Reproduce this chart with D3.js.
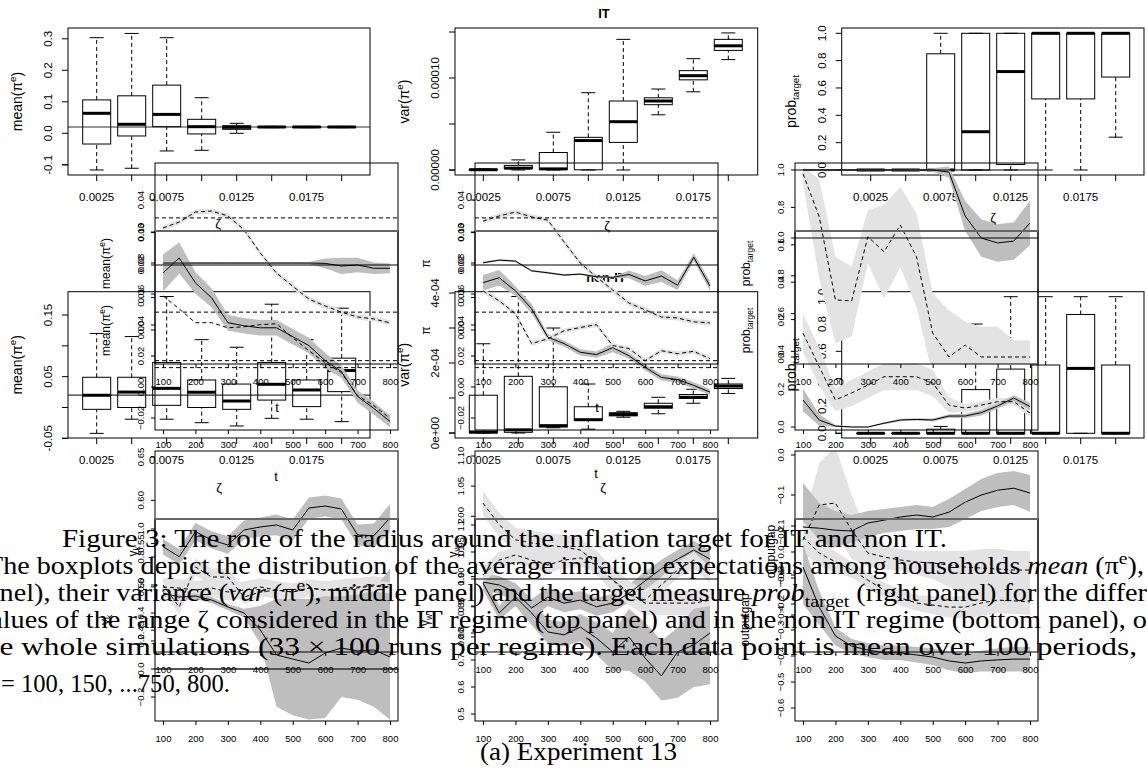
<!DOCTYPE html>
<html>
<head>
<meta charset="utf-8">
<script src="https://d3js.org/d3.v7.min.js"></script>
<style>
  body { margin: 0; background: #fff; }
  svg { display: block; }
</style>
</head>
<body>
<script>
// ---------- boxplot data: [lower whisker, q1, median, q3, upper whisker] ----------
var boxCats = ["0.0025", "0.005", "0.0075", "0.01", "0.0125", "0.015", "0.0175", "0.02"];

var itMeanBox = [
  [-0.1165, -0.034, 0.0635, 0.106, 0.3035],
  [-0.111, -0.0085, 0.0286, 0.119, 0.317],
  [-0.056, 0.021, 0.06, 0.153, 0.3035],
  [-0.054, -0.002, 0.021, 0.0444, 0.113],
  [0.0, 0.0127, 0.019, 0.0241, 0.0317],
  [0.018, 0.019, 0.02, 0.021, 0.022],
  [0.018, 0.019, 0.02, 0.021, 0.022],
  [0.018, 0.019, 0.02, 0.021, 0.022]
];
var itVarBox = [
  [0, 1e-7, 3e-7, 8e-7, 1.2e-6],
  [0, 1.5e-6, 2e-6, 5e-6, 1.1e-5],
  [0, 5e-7, 1.2e-6, 1.9e-5, 4.1e-5],
  [0, 2e-7, 3.2e-5, 3.55e-5, 8.4e-5],
  [0, 3.0e-5, 5.25e-5, 7.5e-5, 1.42e-4],
  [6.0e-5, 7.1e-5, 7.5e-5, 7.85e-5, 8.8e-5],
  [8.5e-5, 9.8e-5, 1.025e-4, 1.08e-4, 1.21e-4],
  [1.2e-4, 1.3e-4, 1.35e-4, 1.42e-4, 1.49e-4]
];
var itProbBox = [
  [0, 0, 0, 0, 0], [0, 0, 0, 0, 0], [0, 0, 0, 0.85, 1], [0, 0, 0.28, 1, 1],
  [0, 0.04, 0.72, 1, 1], [0, 0.52, 1, 1, 1], [0, 0.52, 1, 1, 1], [0.24, 0.68, 1, 1, 1]
];
var nonMeanBox = [
  [-0.042, -0.003, 0.0198, 0.049, 0.12],
  [-0.019, 0.0, 0.025, 0.049, 0.115],
  [-0.019, 0.0035, 0.031, 0.073, 0.18],
  [-0.0247, 0.0, 0.0247, 0.0446, 0.11],
  [-0.03, -0.003, 0.0105, 0.038, 0.0977],
  [-0.0176, 0.012, 0.0376, 0.073, 0.1675],
  [-0.019, 0.0014, 0.0284, 0.0446, 0.11],
  [-0.023, 0.0257, 0.06, 0.08, 0.161]
];
var nonVarBox = [
  [0, 0, 3e-6, 1.08e-4, 2.55e-4],
  [0, 2e-6, 9e-6, 1.62e-4, 3.9e-4],
  [1.5e-5, 1.7e-5, 2.1e-5, 1.32e-4, 3.0e-4],
  [1.1e-5, 3.6e-5, 3.8e-5, 7.5e-5, 1.4e-4],
  [4.5e-5, 4.9e-5, 5.3e-5, 5.8e-5, 6.2e-5],
  [5.5e-5, 7.1e-5, 7.5e-5, 8.5e-5, 1.02e-4],
  [8.5e-5, 9.9e-5, 1.02e-4, 1.1e-4, 1.25e-4],
  [1.13e-4, 1.27e-4, 1.34e-4, 1.4e-4, 1.56e-4]
];
var nonProbBox = [
  [0, 0, 0, 0, 0], [0, 0, 0, 0, 0], [0, 0, 0, 0.03, 0.05], [0, 0, 0, 0.32, 0.8],
  [0, 0, 0, 0.47, 1], [0, 0, 0, 0.5, 1], [0, 0, 0.475, 0.87, 1], [0, 0, 0, 0.5, 1]
];

// ---------- time series data ----------
var tSteps = [100, 150, 200, 250, 300, 350, 400, 450, 500, 550, 600, 650, 700, 750, 800];

// upper row, first layer
var p1MeanSolid = [0.0206, 0.0206, 0.0206, 0.0206, 0.0206, 0.0206, 0.0206, 0.0206, 0.0206, 0.0206, 0.0205, 0.0197, 0.0200, 0.0190, 0.0190];
var p1MeanSolidHalf = [0.0003, 0.0003, 0.0003, 0.0003, 0.0003, 0.0003, 0.0003, 0.0003, 0.0003, 0.0003, 0.0015, 0.0025, 0.0022, 0.0018, 0.0015];
var p1MeanDash = [0.0314, 0.0332, 0.0363, 0.0366, 0.0351, 0.0308, 0.0237, 0.0175, 0.0135, 0.0095, 0.0074, 0.0055, 0.0040, 0.0034, 0.0022];
var p1MeanDashHalf = [0.0008, 0.0008, 0.0008, 0.0008, 0.0008, 0.0008, 0.0008, 0.0008, 0.0008, 0.0008, 0.0008, 0.0008, 0.0008, 0.0008, 0.0008];
var p1PiSolid = [0.0207, 0.0215, 0.0212, 0.0182, 0.0176, 0.0169, 0.0172, 0.0164, 0.0162, 0.0171, 0.0151, 0.0166, 0.0138, 0.0224, 0.0135];
var p1PiSolidHalf = [0.0003, 0.0003, 0.0003, 0.0003, 0.0003, 0.0003, 0.0003, 0.0003, 0.0003, 0.0012, 0.0015, 0.0018, 0.0015, 0.0012, 0.0015];
var p1PiDash = [0.0335, 0.0351, 0.0363, 0.0348, 0.0338, 0.0271, 0.0206, 0.0163, 0.0123, 0.0083, 0.0062, 0.0040, 0.0037, 0.0025, 0.0022];
var p1PiDashHalf = [0.0008, 0.0008, 0.0008, 0.0008, 0.0008, 0.0008, 0.0008, 0.0008, 0.0008, 0.0008, 0.0008, 0.0008, 0.0008, 0.0008, 0.0008];
var p1ProbSolid = [1, 1, 1, 1, 1, 1, 1, 1, 1, 0.989, 0.754, 0.636, 0.610, 0.620, 0.717];
var p1ProbSolidHalf = [0.004, 0.004, 0.004, 0.004, 0.004, 0.004, 0.004, 0.006, 0.01, 0.03, 0.08, 0.1, 0.1, 0.1, 0.12];
var p1ProbDash = [0.98, 0.75, 0.305, 0.30, 0.643, 0.563, 0.706, 0.536, 0.128, 0.0, 0.064, 0.0, 0.0, 0.0, 0.0];
var p1ProbDashLo = [0.93, 0.42, 0.073, 0.109, 0.5, 0.314, 0.483, 0.269, -0.1, -0.1, -0.1, -0.1, -0.1, -0.1, -0.1];
var p1ProbDashHi = [1.02, 0.95, 0.536, 0.483, 0.786, 0.813, 0.91, 0.768, 0.34, 0.25, 0.189, 0.162, 0.162, 0.09, 0.09];

// upper row, second layer
var q1MeanSolid = [0.0736, 0.0832, 0.0672, 0.0575, 0.0415, 0.0395, 0.0382, 0.0382, 0.0325, 0.0267, 0.017, 0.010, -0.0061, -0.0138, -0.0222];
var q1MeanSolidHalf = [0.012, 0.01, 0.007, 0.006, 0.005, 0.005, 0.005, 0.005, 0.005, 0.005, 0.005, 0.004, 0.004, 0.004, 0.004];
var q1MeanDash = [0.0588, 0.0504, 0.0415, 0.0415, 0.0382, 0.0389, 0.0402, 0.0408, 0.0318, 0.0234, 0.0157, 0.0093, -0.0055, -0.012, -0.0202];
var q1PiSolid = [0.0673, 0.0705, 0.0620, 0.0505, 0.0321, 0.0280, 0.0224, 0.0209, 0.0254, 0.0202, 0.0127, 0.0062, 0.0048, 0.0010, -0.0033];
var q1PiSolidHalf = [0.005, 0.005, 0.003, 0.003, 0.002, 0.002, 0.002, 0.002, 0.003, 0.002, 0.002, 0.002, 0.002, 0.002, 0.002];
var q1PiDash = [0.0620, 0.0556, 0.0473, 0.0280, 0.0311, 0.0363, 0.0384, 0.0402, 0.0267, 0.0248, 0.0170, 0.0234, 0.0215, 0.0230, 0.0183];
var q1PiDashHalf = [0.0015, 0.0015, 0.0015, 0.0015, 0.0015, 0.0015, 0.0015, 0.0015, 0.0015, 0.0015, 0.0015, 0.0015, 0.0015, 0.0015, 0.0015];
var q1ProbSolid = [0.143, 0.037, 0.005, 0, 0, 0.02, 0.037, 0.04, 0.037, 0.058, 0.058, 0.076, 0.111, 0.153, 0.108];
var q1ProbSolidHalf = [0.06, 0.03, 0.005, 0.003, 0.003, 0.005, 0.006, 0.006, 0.008, 0.01, 0.012, 0.015, 0.015, 0.015, 0.02];
var q1ProbDash = [0.497, 0.319, 0.143, 0.18, 0.222, 0.266, 0.266, 0.266, 0.233, 0.116, 0.1, 0.116, 0.134, 0.134, 0.074];
var q1ProbDashHalf = [0.1, 0.1, 0.06, 0.07, 0.07, 0.07, 0.07, 0.07, 0.07, 0.04, 0.02, 0.02, 0.02, 0.02, 0.02];

// lower row, first layer
var p2GkSolid = [0.5464, 0.5349, 0.5637, 0.5542, 0.5484, 0.5657, 0.5692, 0.5715, 0.5657, 0.5911, 0.5934, 0.59, 0.56, 0.5591, 0.5796];
var p2GkSolidHalf = [0.009, 0.009, 0.01, 0.01, 0.01, 0.011, 0.011, 0.012, 0.012, 0.012, 0.012, 0.012, 0.012, 0.014, 0.016];
var p2GkDash = [0.4999, 0.4987, 0.4964, 0.4987, 0.4941, 0.4964, 0.4999, 0.4964, 0.4941, 0.4987, 0.4964, 0.4987, 0.4999, 0.5022, 0.4999];
var p2GkDashHalf = [0.01, 0.01, 0.01, 0.01, 0.01, 0.01, 0.01, 0.01, 0.01, 0.01, 0.01, 0.01, 0.01, 0.01, 0.01];
var p2GwSolid = [0.891, 0.886, 0.874, 0.848, 0.866, 0.856, 0.861, 0.85, 0.856, 0.872, 0.893, 0.913, 0.929, 0.944, 0.929];
var p2GwSolidHalf = [0.015, 0.015, 0.015, 0.015, 0.015, 0.015, 0.015, 0.015, 0.015, 0.015, 0.015, 0.015, 0.015, 0.015, 0.015];
var p2GwDash = [1.022, 0.986, 0.961, 0.956, 0.952, 0.949, 0.944, 0.923, 0.895, 0.873, 0.856, 0.856, 0.856, 0.856, 0.861];
var p2GwDashHalf = [0.02, 0.02, 0.02, 0.02, 0.02, 0.02, 0.02, 0.02, 0.02, 0.02, 0.02, 0.02, 0.02, 0.02, 0.02];
var p2GapSolid = [-0.18, -0.183, -0.188, -0.19, -0.17, -0.163, -0.155, -0.15, -0.155, -0.143, -0.118, -0.1, -0.088, -0.083, -0.095];
var p2GapSolidLo = [-0.26, -0.24, -0.23, -0.22, -0.205, -0.195, -0.19, -0.185, -0.185, -0.18, -0.16, -0.14, -0.13, -0.125, -0.142];
var p2GapSolidHi = [-0.07, -0.12, -0.14, -0.15, -0.14, -0.135, -0.13, -0.125, -0.13, -0.11, -0.085, -0.06, -0.045, -0.04, -0.05];
var p2GapDash = [-0.2125, -0.125, -0.12, -0.1875, -0.245, -0.255, -0.2625, -0.2675, -0.27, -0.275, -0.28, -0.2825, -0.285, -0.2875, -0.2875];
var p2GapDashLo = [-0.25, -0.2, -0.19, -0.26, -0.28, -0.285, -0.29, -0.3, -0.31, -0.33, -0.35, -0.36, -0.37, -0.37, -0.37];
var p2GapDashHi = [-0.17, -0.02, 0.02, -0.1, -0.2, -0.225, -0.235, -0.24, -0.24, -0.24, -0.24, -0.235, -0.235, -0.24, -0.24];

// lower row, second layer
var q2GkSolid = [0.543, 0.514, 0.521, 0.493, 0.443, 0.4, 0.279, 0.1, 0.071, 0.043, 0.114, 0.15, 0.129, 0.136, 0.086];
var q2GkSolidLo = [0.52, 0.49, 0.5, 0.47, 0.42, 0.37, 0.18, -0.27, -0.33, -0.36, -0.35, -0.2, -0.22, -0.27, -0.36];
var q2GkSolidHi = [0.56, 0.53, 0.54, 0.515, 0.465, 0.43, 0.45, 0.5, 0.5, 0.5, 0.52, 0.52, 0.53, 0.56, 0.72];
var q2GkDash = [0.6, 0.443, 0.729, 0.657, 0.657, 0.514, 0.55, 0.564, 0.55, 0.579, 0.564, 0.564, 0.579, 0.593, 0.579];
var q2GkDashHalf = [0.05, 0.05, 0.06, 0.06, 0.06, 0.05, 0.04, 0.04, 0.04, 0.04, 0.04, 0.04, 0.04, 0.04, 0.04];
var q2GwSolid = [0.985, 0.874, 0.933, 0.874, 0.804, 0.793, 0.822, 0.781, 0.73, 0.785, 0.707, 0.641, 0.73, 0.756, 0.8];
var q2GwSolidLo = [0.96, 0.85, 0.9, 0.83, 0.76, 0.75, 0.77, 0.72, 0.66, 0.66, 0.62, 0.55, 0.56, 0.6, 0.61];
var q2GwSolidHi = [1.01, 0.9, 0.97, 0.92, 0.85, 0.84, 0.87, 0.84, 0.8, 0.89, 0.84, 0.77, 0.82, 0.89, 0.9];
var q2GwDash = [1.015, 1.07, 1.089, 1.07, 1.052, 1.07, 1.078, 1.052, 0.996, 0.941, 0.922, 0.978, 1.033, 1.07, 1.015];
var q2GwDashHalf = [0.03, 0.03, 0.03, 0.03, 0.03, 0.03, 0.03, 0.03, 0.03, 0.03, 0.03, 0.03, 0.03, 0.03, 0.03];
var q2GapSolid = [-0.058, -0.212, -0.323, -0.362, -0.377, -0.388, -0.388, -0.396, -0.404, -0.419, -0.427, -0.419, -0.415, -0.412, -0.412];
var q2GapSolidLo = [-0.2, -0.28, -0.36, -0.39, -0.405, -0.415, -0.415, -0.425, -0.435, -0.455, -0.465, -0.46, -0.46, -0.46, -0.46];
var q2GapSolidHi = [0.03, -0.15, -0.29, -0.335, -0.35, -0.36, -0.36, -0.365, -0.37, -0.385, -0.39, -0.38, -0.37, -0.365, -0.365];
var q2GapDash = [0.058, -0.004, -0.038, -0.069, -0.108, -0.146, -0.177, -0.196, -0.204, -0.212, -0.212, -0.196, -0.185, -0.188, -0.192];
var q2GapDashHalf = [0.06, 0.05, 0.04, 0.03, 0.03, 0.03, 0.03, 0.03, 0.035, 0.04, 0.045, 0.05, 0.05, 0.05, 0.05];

// ---------- caption ----------
var captionLines = [
  [["Figure 3: The role of the radius around the inflation target for IT and non IT.", ""]],
  [["The boxplots depict the distribution of the average inflation expectations among households ", ""], ["mean", "i"], [" (π", ""], ["e", "sup"], ["),", ""]],
  [["panel), their variance (", ""], ["var", "i"], [" (π", ""], ["e", "sup"], ["), middle panel) and the target measure ", ""], ["prob", "i"], ["target", "sub"], [" (right panel) for the differ", ""]],
  [["values of the range ζ considered in the IT regime (top panel) and in the non IT regime (bottom panel), o", ""]],
  [["the whole simulations (33 × 100 runs per regime). Each data point is mean over 100 periods,", ""]],
  [["t", "i"], [" = 100, 150, ...750, 800.", ""]],
  [["(a) Experiment 13", ""]]
];

// ---------- drawing ----------
var W = 1147, H = 771;
var SANS = '"Liberation Sans", Arial, Helvetica, sans-serif';
var SERIF = '"Liberation Serif", "Times New Roman", serif';
var DARK = "#bebebe", LIGHT = "#e3e3e3";

var svg = d3.select("body").append("svg").attr("width", W).attr("height", H);
svg.append("rect").attr("width", W).attr("height", H).attr("fill", "#fff");
var defs = svg.append("defs");

// text with superscript / subscript / italic parts
function richText(g, x, y, parts, size, opts) {
  opts = opts || {};
  var t = g.append("text").attr("x", x).attr("y", y)
    .attr("font-size", size).attr("font-family", opts.family || SANS)
    .attr("text-anchor", opts.anchor || "start")
    .attr("font-weight", opts.weight || "normal");
  if (opts.rotate) t.attr("transform", "rotate(-90," + x + "," + y + ")");
  var shift = 0;
  parts.forEach(function (p) {
    var s = t.append("tspan").text(p[0]);
    var target = 0;
    if (p[1] === "sup") { target = -size * 0.42; s.attr("font-size", size * 0.7); }
    if (p[1] === "sub") { target = size * 0.25; s.attr("font-size", size * 0.7); }
    if (p[1] === "i") s.attr("font-style", "italic");
    if (target !== shift) { s.attr("dy", target - shift); shift = target; }
  });
  if (opts.len) t.attr("textLength", opts.len).attr("lengthAdjust", "spacingAndGlyphs");
  return t;
}

var MEAN = [["mean(π", ""], ["e", "sup"], [")", ""]];
var VAR = [["var(π", ""], ["e", "sup"], [")", ""]];
var PROB = [["prob", ""], ["target", "sub"]];

// ----- boxplot panels -----
var boxPanels = [
  { data: itMeanBox, frame: [68, 370, 28, 175], xr: [96.7, 341.7], yd: [0, 0.3], yr: [133.3, 38.8],
    ticks: [-0.1, 0, 0.1, 0.2, 0.3], labels: ["-0.1", "0.0", "0.1", "0.2", "0.3"], target: 0.02, title: MEAN },
  { data: itVarBox, frame: [455, 757.7, 28, 175], xr: [483.3, 728.3], yd: [0, 0.0001], yr: [170, 78],
    ticks: [0, 0.00005, 0.0001, 0.00015], labels: ["0.00000", "", "0.00010", ""], title: VAR },
  { data: itProbBox, frame: [841.7, 1144, 28, 175], xr: [870.7, 1115.7], yd: [0, 1], yr: [170, 33.3],
    ticks: [0, 0.2, 0.4, 0.6, 0.8, 1], labels: ["0.0", "0.2", "0.4", "0.6", "0.8", "1.0"], title: PROB },
  { data: nonMeanBox, frame: [68, 370, 291.7, 438], xr: [96.7, 341.7], yd: [-0.05, 0.15], yr: [438.3, 315],
    ticks: [-0.05, 0, 0.05, 0.1, 0.15], labels: ["-0.05", "", "0.05", "", "0.15"], target: 0.02, title: MEAN },
  { data: nonVarBox, frame: [455, 757.7, 291.7, 438], xr: [483.3, 728.3], yd: [0, 0.0004], yr: [433, 293],
    ticks: [0, 0.0001, 0.0002, 0.0003, 0.0004], labels: ["0e+00", "", "2e-04", "", "4e-04"], title: VAR },
  { data: nonProbBox, frame: [841.7, 1144, 291.7, 438], xr: [870.7, 1115.7], yd: [0, 1], yr: [433.3, 296.7],
    ticks: [0, 0.2, 0.4, 0.6, 0.8, 1], labels: ["0.0", "0.2", "0.4", "0.6", "0.8", "1.0"], title: PROB }
];

var boxLayer = svg.append("g");
boxPanels.forEach(function (p) {
  var l = p.frame[0], r = p.frame[1], t = p.frame[2], b = p.frame[3];
  var x = d3.scalePoint().domain(boxCats).range(p.xr);
  var y = d3.scaleLinear().domain(p.yd).range(p.yr);
  var g = boxLayer.append("g").attr("stroke", "#000").attr("fill", "none");
  if (p.target !== undefined) {
    g.append("line").attr("x1", l).attr("x2", r).attr("y1", y(p.target)).attr("y2", y(p.target)).attr("stroke", "#333").attr("stroke-width", 1.2);
  }
  p.data.forEach(function (d, i) {
    var cx = x(boxCats[i]);
    g.append("line").attr("x1", cx).attr("x2", cx).attr("y1", y(d[0])).attr("y2", y(d[1])).attr("stroke-dasharray", "4,3");
    g.append("line").attr("x1", cx).attr("x2", cx).attr("y1", y(d[3])).attr("y2", y(d[4])).attr("stroke-dasharray", "4,3");
    g.append("line").attr("x1", cx - 7).attr("x2", cx + 7).attr("y1", y(d[0])).attr("y2", y(d[0]));
    g.append("line").attr("x1", cx - 7).attr("x2", cx + 7).attr("y1", y(d[4])).attr("y2", y(d[4]));
    g.append("rect").attr("x", cx - 14).attr("width", 28).attr("y", y(d[3])).attr("height", Math.max(0.01, y(d[1]) - y(d[3])));
    g.append("line").attr("x1", cx - 14).attr("x2", cx + 14).attr("y1", y(d[2])).attr("y2", y(d[2])).attr("stroke-width", 3);
  });
  g.append("rect").attr("x", l).attr("y", t).attr("width", r - l).attr("height", b - t);
  // x axis
  boxCats.forEach(function (c, i) {
    g.append("line").attr("x1", x(c)).attr("x2", x(c)).attr("y1", b).attr("y2", b + 6);
    if (i % 2 === 0) {
      boxLayer.append("text").attr("x", x(c)).attr("y", b + 26).attr("text-anchor", "middle")
        .attr("font-family", SANS).attr("font-size", 11.5).text(c);
    }
  });
  // y axis
  g.append("line").attr("x1", l).attr("x2", l - 6).attr("y1", y(p.ticks[0])).attr("y2", y(p.ticks[0]));
  p.ticks.forEach(function (v, i) {
    g.append("line").attr("x1", l).attr("x2", l - 6).attr("y1", y(v)).attr("y2", y(v));
    if (p.labels[i]) {
      boxLayer.append("text").attr("x", l - 16).attr("y", y(v)).attr("text-anchor", "middle")
        .attr("transform", "rotate(-90," + (l - 16) + "," + y(v) + ")")
        .attr("font-family", SANS).attr("font-size", 11.5).text(p.labels[i]);
    }
  });
  richText(boxLayer, l - 46, (t + b) / 2, p.title, 14, { anchor: "middle", rotate: true });
});
boxLayer.append("text").attr("x", 604).attr("y", 18).attr("text-anchor", "middle").attr("font-family", SANS)
  .attr("font-weight", "bold").attr("font-size", 13).text("IT");
boxLayer.append("text").attr("x", 606).attr("y", 282).attr("text-anchor", "middle").attr("font-family", SANS)
  .attr("font-weight", "bold").attr("font-size", 13).text("non-IT");

// ----- time series panels -----
var GK = [["γ", ""], ["k", "sub"]];
var GW = [["γ", ""], ["w", "sub"]];
var PI = [["π", ""]];
var GAP = [["outputgap", ""]];
var piTicksA = [0, 0.01, 0.02, 0.03, 0.04];
var piTicksB = [-0.02, 0, 0.02, 0.04, 0.06, 0.08, 0.1];
var probTicks = [0, 0.2, 0.4, 0.6, 0.8, 1];

function sym(v, h) { return { v: v, lo: v.map(function (d, i) { return d - h[i]; }), hi: v.map(function (d, i) { return d + h[i]; }) }; }

var tsPanels = [
  // upper row, first layer
  { frame: [155, 398, 163, 364], yd: [0, 0.04], yr: [330, 200], ticks: piTicksA, fmt: ".2f", xLab: 383, title: MEAN, tdx: 45,
    refs: [{ v: 0.02 }, { v: 0.0345, dash: true }, { v: 0.0055, dash: true }],
    series: [Object.assign(sym(p1MeanDash, p1MeanDashHalf), { dash: true, fill: LIGHT }), Object.assign(sym(p1MeanSolid, p1MeanSolidHalf), { fill: DARK })] },
  { frame: [475, 718, 163, 364], yd: [0, 0.04], yr: [330, 200], ticks: piTicksA, fmt: ".2f", xLab: 383, title: PI, tdx: 45,
    refs: [{ v: 0.02 }, { v: 0.0345, dash: true }, { v: 0.0055, dash: true }],
    series: [Object.assign(sym(p1PiDash, p1PiDashHalf), { dash: true, fill: LIGHT }), Object.assign(sym(p1PiSolid, p1PiSolidHalf), { fill: DARK })] },
  { frame: [795, 1038, 163, 364], yd: [0, 1], yr: [357, 170], ticks: probTicks, fmt: ".1f", xLab: 383, title: PROB, tdx: 45,
    refs: [{ v: 1 }],
    series: [{ v: p1ProbDash, lo: p1ProbDashLo, hi: p1ProbDashHi, dash: true, fill: LIGHT }, Object.assign(sym(p1ProbSolid, p1ProbSolidHalf), { fill: DARK })] },
  // upper row, second layer
  { frame: [155, 398, 231, 430], yd: [0, 0.1], yr: [387, 232], ticks: piTicksB, fmt: ".2f", xLab: 446, title: MEAN, tdx: 45, grayTop: true,
    refs: [{ v: 0.017, dash: true }, { v: 0.0125, dash: true }],
    series: [Object.assign(sym(q1MeanSolid, q1MeanSolidHalf), { fill: DARK }), { v: q1MeanDash, dash: true }] },
  { frame: [475, 718, 231, 430], yd: [0, 0.1], yr: [387, 232], ticks: piTicksB, fmt: ".2f", xLab: 446, title: PI, tdx: 45, grayTop: true,
    refs: [{ v: 0.017, dash: true }, { v: 0.0125, dash: true }],
    series: [Object.assign(sym(q1PiSolid, q1PiSolidHalf), { fill: DARK }), Object.assign(sym(q1PiDash, q1PiDashHalf), { dash: true, fill: LIGHT })] },
  { frame: [795, 1038, 231, 430], yd: [0, 1], yr: [427, 238], ticks: probTicks, fmt: ".1f", xLab: 446, title: PROB, tdx: 45, grayTop: true,
    refs: [{ v: 1 }],
    series: [Object.assign(sym(q1ProbDash, q1ProbDashHalf), { dash: true, fill: LIGHT }), Object.assign(sym(q1ProbSolid, q1ProbSolidHalf), { fill: DARK })] },
  // lower row, first layer
  { frame: [155, 398, 451, 652], yd: [0.45, 0.65], yr: [630.2, 457], ticks: [0.45, 0.5, 0.55, 0.6, 0.65], fmt: ".2f", xLab: 671, title: GK, tdx: 18,
    refs: [],
    series: [Object.assign(sym(p2GkSolid, p2GkSolidHalf), { fill: DARK }), Object.assign(sym(p2GkDash, p2GkDashHalf), { dash: true, fill: LIGHT })] },
  { frame: [475, 718, 451, 652], yd: [0.8, 1.1], yr: [636.9, 456], ticks: [0.8, 0.85, 0.9, 0.95, 1.0, 1.05, 1.1], fmt: ".2f", xLab: 671, title: GW, tdx: 18,
    refs: [],
    series: [Object.assign(sym(p2GwSolid, p2GwSolidHalf), { fill: DARK }), Object.assign(sym(p2GwDash, p2GwDashHalf), { dash: true, fill: LIGHT })] },
  { frame: [795, 1038, 451, 652], yd: [-0.4, 0], yr: [615, 455], ticks: [-0.4, -0.3, -0.2, -0.1, 0], fmt: ".1f", xLab: 671, title: GAP, tdx: 20,
    refs: [],
    series: [{ v: p2GapDash, lo: p2GapDashLo, hi: p2GapDashHi, dash: true, fill: LIGHT }, { v: p2GapSolid, lo: p2GapSolidLo, hi: p2GapSolidHi, fill: DARK }] },
  // lower row, second layer
  { frame: [155, 398, 519, 721], yd: [0, 1], yr: [669, 529], ticks: [-0.2, 0, 0.2, 0.4, 0.6, 0.8, 1.0], fmt: ".1f", xLab: 740, title: GK, tdx: 46, grayTop: true,
    refs: [{ v: 0, color: "#555", w: 2 }],
    series: [{ v: q2GkSolid, lo: q2GkSolidLo, hi: q2GkSolidHi, fill: DARK }, Object.assign(sym(q2GkDash, q2GkDashHalf), { dash: true, fill: LIGHT })] },
  { frame: [475, 718, 519, 721], yd: [0.5, 1.2], yr: [714, 525], ticks: [0.5, 0.6, 0.7, 0.8, 0.9, 1.0, 1.1, 1.2], fmt: ".1f", xLab: 740, title: GW, tdx: 46, grayTop: true,
    refs: [{ v: 1 }],
    series: [{ v: q2GwSolid, lo: q2GwSolidLo, hi: q2GwSolidHi, fill: DARK }, Object.assign(sym(q2GwDash, q2GwDashHalf), { dash: true, fill: LIGHT })] },
  { frame: [795, 1038, 519, 721], yd: [-0.6, 0.1], yr: [708, 526], ticks: [-0.6, -0.5, -0.4, -0.3, -0.2, -0.1, 0, 0.1], fmt: ".1f", xLab: 740, title: GAP, tdx: 46, grayTop: true,
    refs: [],
    series: [Object.assign(sym(q2GapDash, q2GapDashHalf), { dash: true, fill: LIGHT }), { v: q2GapSolid, lo: q2GapSolidLo, hi: q2GapSolidHi, fill: DARK }] }
];

var bandLayer = svg.append("g");
var lineLayer = svg.append("g");
var axisLayer = svg.append("g");

tsPanels.forEach(function (p, k) {
  var l = p.frame[0], r = p.frame[1], t = p.frame[2], b = p.frame[3];
  var x = d3.scaleLinear().domain([100, 800]).range([l + 8, r - 8]);
  var y = d3.scaleLinear().domain(p.yd).range(p.yr);
  var fmt = d3.format(p.fmt);
  var id = "clip" + k;
  defs.append("clipPath").attr("id", id).append("rect").attr("x", l).attr("y", t).attr("width", r - l).attr("height", b - t);

  var bg = bandLayer.append("g").attr("clip-path", "url(#" + id + ")");
  var lg = lineLayer.append("g").attr("clip-path", "url(#" + id + ")");
  p.series.forEach(function (s) {
    if (s.lo && s.fill) {
      var rows = tSteps.map(function (tt, i) { return [tt, s.lo[i], s.hi[i]]; });
      bg.append("path").datum(rows).attr("fill", s.fill).attr("stroke", "none")
        .attr("d", d3.area().x(function (d) { return x(d[0]); }).y0(function (d) { return y(d[1]); }).y1(function (d) { return y(d[2]); }));
    }
  });
  p.refs.forEach(function (rf) {
    lg.append("line").attr("x1", l).attr("x2", r).attr("y1", y(rf.v)).attr("y2", y(rf.v))
      .attr("stroke", rf.color || "#000").attr("stroke-width", rf.w || 1)
      .attr("stroke-dasharray", rf.dash ? "4,3" : null);
  });
  p.series.forEach(function (s) {
    var rows = tSteps.map(function (tt, i) { return [tt, s.v[i]]; });
    lg.append("path").datum(rows).attr("fill", "none").attr("stroke", "#000").attr("stroke-width", 1)
      .attr("stroke-dasharray", s.dash ? "4,3" : null)
      .attr("d", d3.line().x(function (d) { return x(d[0]); }).y(function (d) { return y(d[1]); }));
  });

  var ag = axisLayer.append("g");
  ag.append("rect").attr("x", l).attr("y", t).attr("width", r - l).attr("height", b - t)
    .attr("fill", "none").attr("stroke", "#000");
  if (p.grayTop) {
    ag.append("line").attr("x1", l).attr("x2", r).attr("y1", t).attr("y2", t).attr("stroke", "#666").attr("stroke-width", 2);
  }
  var xAxis = d3.axisBottom(x).tickValues([100, 200, 300, 400, 500, 600, 700, 800]).tickSize(4).tickPadding(p.xLab - b - 9);
  var xg = ag.append("g").attr("transform", "translate(0," + b + ")").call(xAxis);
  xg.select(".domain").remove();
  xg.selectAll("text").attr("font-family", SANS).attr("font-size", 9.5);

  p.ticks.forEach(function (v) {
    ag.append("line").attr("x1", l).attr("x2", l - 4).attr("y1", y(v)).attr("y2", y(v)).attr("stroke", "#000");
    ag.append("text").attr("x", l - 11).attr("y", y(v)).attr("text-anchor", "middle")
      .attr("transform", "rotate(-90," + (l - 11) + "," + y(v) + ")")
      .attr("font-family", SANS).attr("font-size", 9.5).text(fmt(v));
  });
  richText(ag, l - p.tdx, (t + b) / 2, p.title, 12, { anchor: "middle", rotate: true });
});

var tsNotes = [["ζ", 218, 228], ["ζ", 607, 230], ["ζ", 993, 222], ["ζ", 219, 492], ["ζ", 603, 492],
  ["t", 277, 412], ["t", 597, 412], ["t", 276, 481], ["t", 596, 478]];
tsNotes.forEach(function (n) {
  axisLayer.append("text").attr("x", n[1]).attr("y", n[2]).attr("text-anchor", "middle")
    .attr("font-family", SANS).attr("font-size", 13).text(n[0]);
});

// ----- caption -----
var capPos = [[62, 547, 885], [-14, 574, 1158], [-27, 601, 1174], [-24, 628, 1171], [-25, 655, 1162], [-12, 692, 242], [480, 760, 197]];
var capLayer = svg.append("g");
captionLines.forEach(function (parts, i) {
  var cp = capPos[i];
  richText(capLayer, cp[0], cp[1], parts, 25, { family: SERIF, len: cp[2] });
});
</script>
</body>
</html>
